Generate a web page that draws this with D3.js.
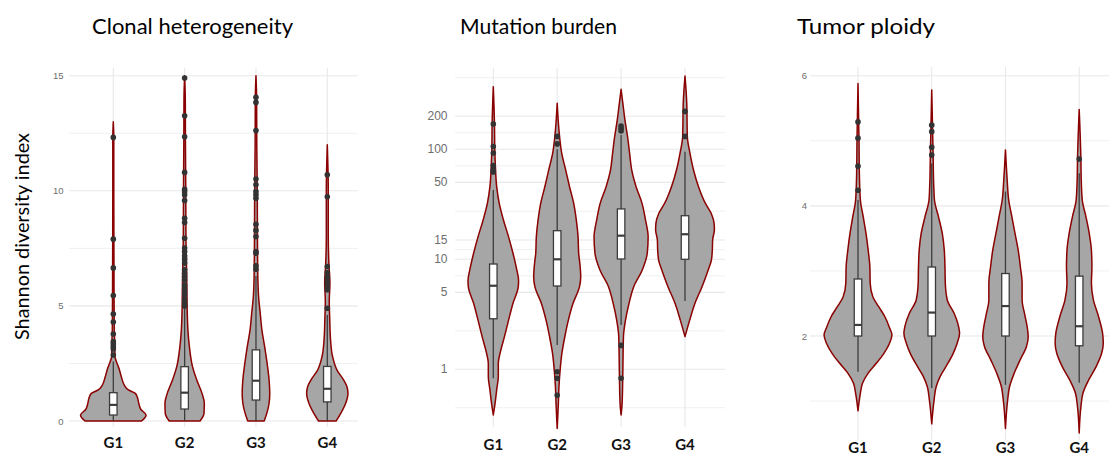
<!DOCTYPE html>
<html>
<head>
<meta charset="utf-8">
<script src="https://cdn.jsdelivr.net/npm/d3@7"></script>
<style>
  html, body { margin: 0; padding: 0; background: #fff; }
  svg { display: block; }
</style>
</head>
<body>
<svg id="chart" width="1109" height="456"></svg>
<script>
// ---------- shared ----------
const groups = ["G1", "G2", "G3", "G4"];

// ---------- Clonal heterogeneity (Shannon diversity index) ----------
const clonalTicks = [0, 5, 10, 15];
// [lower whisker, Q1, median, Q3, upper whisker]
const clonalStats = [
  [0, 0.26, 0.70, 1.23, 2.58],
  [0, 0.52, 1.23, 2.36, 5.0],
  [0, 0.91, 1.75, 3.09, 6.3],
  [0, 0.83, 1.40, 2.37, 4.6]
];
const clonalOutliers = [
  [2.87, 3.13, 3.23, 3.35, 3.45, 3.78, 4.30, 4.65, 5.45, 6.65, 7.9, 12.32],
  [5.0, 5.14, 5.29, 5.48, 5.62, 5.77, 5.91, 6.13, 6.28, 6.42, 6.57, 6.86, 7.03, 7.17, 7.36, 7.51, 7.94, 8.62, 8.81, 9.58, 9.83, 9.96, 10.07, 10.8, 12.35, 13.26, 14.9],
  [6.59, 6.74, 7.29, 7.36, 8.01, 8.28, 8.55, 9.68, 9.83, 9.97, 10.26, 10.51, 12.62, 13.84, 14.06],
  [4.9, 5.7, 5.87, 6.06, 6.25, 6.45, 6.71, 9.74, 10.7]
];
// kernel density profile: [value, relative density]
const clonalDensity = [
  [[0, 0.86], [0.12, 0.95], [0.26, 1.0], [0.5, 0.84], [0.75, 0.78], [1.0, 0.74], [1.2, 0.67], [1.35, 0.46], [1.55, 0.34], [1.9, 0.25], [2.3, 0.17], [2.6, 0.09], [2.8, 0.05], [3.3, 0.045], [4.0, 0.03], [5.0, 0.025], [7.0, 0.02], [10, 0.015], [12.3, 0.015], [13.0, 0]],
  [[0, 0.47], [0.33, 0.59], [0.77, 0.60], [1.2, 0.53], [1.78, 0.37], [2.36, 0.24], [3.23, 0.145], [3.96, 0.10], [4.68, 0.08], [5.5, 0.07], [6.5, 0.06], [8, 0.04], [10, 0.035], [12, 0.025], [14, 0.02], [15, 0]],
  [[0, 0.25], [0.33, 0.33], [0.77, 0.40], [1.2, 0.42], [1.78, 0.40], [2.5, 0.34], [3.23, 0.265], [3.96, 0.18], [4.68, 0.13], [5.4, 0.08], [6.1, 0.06], [7, 0.05], [8, 0.045], [10, 0.04], [12, 0.025], [14, 0.02], [15, 0]],
  [[0, 0.27], [0.33, 0.41], [0.77, 0.56], [1.2, 0.63], [1.49, 0.60], [1.78, 0.50], [2.2, 0.30], [2.8, 0.16], [3.5, 0.10], [4.4, 0.075], [5.2, 0.06], [6.0, 0.08], [6.8, 0.05], [8, 0.03], [10, 0.03], [11, 0.02], [12, 0]]
];

// ---------- Mutation burden (log scale) ----------
const burdenTicks = [1, 5, 10, 15, 50, 100, 200];
const burdenStats = [
  [0.83, 2.88, 5.75, 9.06, 42.7],
  [1.66, 5.72, 10.0, 18.2, 100],
  [2.53, 10.07, 16.4, 28.7, 135],
  [4.18, 10.0, 16.9, 24.9, 95]
];
const burdenOutliers = [
  [62.2, 64.8, 71, 92.5, 106, 170],
  [0.58, 0.83, 0.95, 112, 131],
  [0.83, 1.65, 147, 155, 163],
  [131, 221]
];
const burdenDensity = [
  [[0.385, 0], [0.49, 0.06], [0.65, 0.115], [0.86, 0.17], [1.135, 0.17], [1.40, 0.23], [1.98, 0.38], [2.8, 0.52], [3.98, 0.67], [5.64, 0.85], [6.46, 0.86], [8.0, 0.80], [11.35, 0.67], [16.0, 0.52], [22.8, 0.345], [32.4, 0.20], [45.7, 0.115], [70.8, 0.07], [100, 0.05], [170, 0.04], [371, 0]],
  [[0.29, 0], [0.49, 0.04], [0.695, 0.06], [0.986, 0.10], [1.40, 0.16], [1.98, 0.26], [2.8, 0.38], [3.98, 0.54], [5.64, 0.76], [6.95, 0.80], [9.2, 0.77], [11.35, 0.73], [16.0, 0.71], [22.8, 0.65], [32.4, 0.56], [45.7, 0.42], [64.6, 0.29], [93.3, 0.15], [131, 0.08], [262, 0]],
  [[0.385, 0], [0.49, 0.035], [0.986, 0.06], [1.98, 0.08], [2.8, 0.15], [3.98, 0.27], [5.64, 0.43], [8.0, 0.72], [11.35, 0.89], [16.0, 0.92], [22.8, 0.83], [32.4, 0.71], [45.7, 0.51], [64.9, 0.36], [92, 0.29], [130, 0.22], [185, 0.13], [262, 0.06], [351, 0]],
  [[1.98, 0], [2.8, 0.16], [3.98, 0.34], [5.64, 0.58], [8.0, 0.79], [9.86, 0.90], [12.2, 0.93], [15.0, 0.94], [18.5, 1.0], [21.2, 0.99], [26.2, 0.89], [32.4, 0.69], [45.7, 0.46], [64.9, 0.29], [92, 0.17], [130, 0.08], [262, 0.06], [464, 0]]
];

// ---------- Tumor ploidy ----------
const ploidyTicks = [2, 4, 6];
const ploidyStats = [
  [1.45, 2.0, 2.17, 2.876, 4.09],
  [1.2, 2.0, 2.36, 3.06, 4.65],
  [1.25, 2.0, 2.46, 2.96, 4.22],
  [1.28, 1.85, 2.15, 2.92, 4.5]
];
const ploidyOutliers = [
  [4.24, 4.61, 5.04, 5.29],
  [4.78, 4.90, 5.14, 5.24],
  [],
  [4.72]
];
const ploidyDensity = [
  [[0.85, 0], [1.12, 0.07], [1.27, 0.13], [1.43, 0.30], [1.58, 0.54], [1.73, 0.76], [1.89, 0.93], [2.015, 1.0], [2.14, 0.92], [2.30, 0.79], [2.45, 0.61], [2.60, 0.44], [2.81, 0.36], [3.06, 0.35], [3.32, 0.30], [3.58, 0.235], [3.83, 0.155], [4.09, 0.07], [4.5, 0.04], [5.0, 0.03], [5.88, 0]],
  [[0.65, 0], [1.02, 0.07], [1.22, 0.13], [1.38, 0.25], [1.53, 0.42], [1.73, 0.63], [1.89, 0.75], [2.04, 0.82], [2.19, 0.77], [2.35, 0.66], [2.55, 0.46], [2.81, 0.40], [3.06, 0.39], [3.32, 0.37], [3.58, 0.31], [3.83, 0.20], [4.09, 0.08], [4.3, 0.06], [4.8, 0.04], [5.78, 0]],
  [[0.58, 0], [1.02, 0.065], [1.22, 0.12], [1.43, 0.26], [1.63, 0.43], [1.84, 0.62], [1.99, 0.67], [2.14, 0.64], [2.35, 0.56], [2.55, 0.49], [2.81, 0.49], [3.06, 0.44], [3.32, 0.375], [3.58, 0.28], [3.83, 0.19], [4.09, 0.095], [4.4, 0.05], [4.86, 0]],
  [[0.51, 0], [0.91, 0.05], [1.12, 0.11], [1.33, 0.285], [1.53, 0.50], [1.73, 0.66], [1.89, 0.71], [2.04, 0.69], [2.30, 0.57], [2.55, 0.42], [2.81, 0.36], [3.06, 0.375], [3.32, 0.36], [3.58, 0.295], [3.83, 0.20], [4.09, 0.09], [4.4, 0.06], [4.72, 0.05], [5.48, 0]]
];

// ---------- drawing ----------
const svg = d3.select("#chart");

const COLORS = {
  fill: "#a6a6a6",
  outline: "#8b0000",
  grid: "#e8e8e8",
  gridMinor: "#f0f0f0",
  box: "#3c3c3c",
  point: "#333333",
  tick: "#6e6e6e"
};

// minor breaks halfway between majors (in the scale's own space), extended one step beyond
function minorBreaks(ticks, fwd, inv) {
  const t = ticks.map(fwd);
  const step = t[1] - t[0];
  const ext = [t[0] - step, ...t, t[t.length - 1] + step];
  const out = [];
  for (let i = 0; i < ext.length - 1; i++) out.push(inv((ext[i] + ext[i + 1]) / 2));
  return out;
}

function drawPanel(p) {
  const g = svg.append("g");
  const clipId = "clip-" + p.key;
  svg.append("clipPath").attr("id", clipId)
    .append("rect")
    .attr("x", p.gridX[0]).attr("y", p.gridY[0])
    .attr("width", p.gridX[1] - p.gridX[0]).attr("height", p.gridY[1] - p.gridY[0]);

  const x = d3.scalePoint().domain(groups).range(p.xRange);
  const y = p.y;
  const step = x.step();
  const w = d3.scaleLinear().domain([0, 1]).range([0, step * 0.46]);

  const grid = g.append("g").attr("clip-path", `url(#${clipId})`);
  // minor horizontal grid
  grid.selectAll("line.minor").data(p.minor).join("line")
    .attr("x1", p.gridX[0]).attr("x2", p.gridX[1])
    .attr("y1", d => y(d)).attr("y2", d => y(d))
    .attr("stroke", COLORS.gridMinor).attr("stroke-width", 1);
  // major horizontal grid
  grid.selectAll("line.major").data(p.ticks).join("line")
    .attr("x1", p.gridX[0]).attr("x2", p.gridX[1])
    .attr("y1", d => y(d)).attr("y2", d => y(d))
    .attr("stroke", COLORS.grid).attr("stroke-width", 1.1);
  // vertical grid at categories
  grid.selectAll("line.vert").data(groups).join("line")
    .attr("x1", d => x(d)).attr("x2", d => x(d))
    .attr("y1", p.gridY[0]).attr("y2", p.gridY[1])
    .attr("stroke", COLORS.grid).attr("stroke-width", 1.1);

  // y tick labels
  g.selectAll("text.ytick").data(p.ticks).join("text")
    .attr("x", p.tickX).attr("y", d => y(d))
    .attr("text-anchor", "end").attr("dominant-baseline", "central")
    .attr("font-family", "'Liberation Sans', Arial, sans-serif")
    .attr("font-size", p.tickSize).attr("fill", COLORS.tick)
    .text(d => d);

  // x labels
  g.selectAll("text.xlab").data(groups).join("text")
    .attr("x", d => x(d)).attr("y", p.xLabelY)
    .attr("text-anchor", "middle")
    .attr("font-family", "Lato, 'Open Sans', sans-serif")
    .attr("font-weight", "bold").attr("font-size", 15).attr("fill", "#111")
    .text(d => d);

  const marks = g.append("g");
  groups.forEach((grp, i) => {
    const cx = x(grp);
    const dens = p.density[i].slice().sort((a, b) => b[0] - a[0]);
    const area = d3.area()
      .curve(d3.curveMonotoneY)
      .y(d => y(d[0]))
      .x0(d => cx - w(d[1]))
      .x1(d => cx + w(d[1]));
    marks.append("path")
      .attr("d", area(dens))
      .attr("fill", COLORS.fill)
      .attr("stroke", COLORS.outline)
      .attr("stroke-width", 1.5)
      .attr("stroke-linejoin", "round");

    const [lo, q1, med, q3, hi] = p.stats[i];
    const bw = 7.5;
    marks.append("line")
      .attr("x1", cx).attr("x2", cx).attr("y1", y(lo)).attr("y2", y(hi))
      .attr("stroke", COLORS.box).attr("stroke-width", 1.3);
    marks.append("rect")
      .attr("x", cx - bw / 2).attr("width", bw)
      .attr("y", y(q3)).attr("height", y(q1) - y(q3))
      .attr("fill", "#fff").attr("stroke", COLORS.box).attr("stroke-width", 1.3);
    marks.append("line")
      .attr("x1", cx - bw / 2).attr("x2", cx + bw / 2)
      .attr("y1", y(med)).attr("y2", y(med))
      .attr("stroke", COLORS.box).attr("stroke-width", 2.2);

    marks.selectAll(null).data(p.outliers[i]).join("circle")
      .attr("cx", cx).attr("cy", d => y(d)).attr("r", 2.8)
      .attr("fill", COLORS.point);
  });

  // panel title
  svg.append("text")
    .attr("x", p.titleX).attr("y", 34)
    .attr("text-anchor", "middle")
    .attr("font-family", "Lato, 'Open Sans', sans-serif")
    .attr("font-size", 22).attr("fill", "#000")
    .attr("textLength", p.titleLen).attr("lengthAdjust", "spacingAndGlyphs")
    .text(p.title);
}

// Clonal heterogeneity
const yClonal = d3.scaleLinear().domain([0, 15]).range([421, 75.7]);
drawPanel({
  key: "clonal", title: "Clonal heterogeneity", titleX: 192.5, titleLen: 201,
  y: yClonal, xRange: [113.3, 327.3],
  gridX: [69, 358], gridY: [68, 427],
  ticks: clonalTicks,
  minor: minorBreaks(clonalTicks, d => d, d => d),
  tickX: 63.5, tickSize: 9.5, xLabelY: 448,
  stats: clonalStats, outliers: clonalOutliers, density: clonalDensity
});

// Mutation burden
const yBurden = d3.scaleLog().domain([1, 100]).range([369.3, 149.3]);
drawPanel({
  key: "burden", title: "Mutation burden", titleX: 538.5, titleLen: 157,
  y: yBurden, xRange: [493.3, 685],
  gridX: [455, 725], gridY: [68, 427],
  ticks: burdenTicks,
  minor: minorBreaks(burdenTicks, Math.log10, d => Math.pow(10, d)),
  tickX: 447.5, tickSize: 12, xLabelY: 450,
  stats: burdenStats, outliers: burdenOutliers, density: burdenDensity
});

// Tumor ploidy
const yPloidy = d3.scaleLinear().domain([2, 6]).range([336, 75.7]);
drawPanel({
  key: "ploidy", title: "Tumor ploidy", titleX: 866, titleLen: 138,
  y: yPloidy, xRange: [858, 1079.2],
  gridX: [810, 1109], gridY: [66.7, 440],
  ticks: ploidyTicks,
  minor: minorBreaks(ploidyTicks, d => d, d => d),
  tickX: 807, tickSize: 9.5, xLabelY: 452.5,
  stats: ploidyStats, outliers: ploidyOutliers, density: ploidyDensity
});

// shared y-axis title on the first panel
svg.append("text")
  .attr("transform", "translate(29,236.5) rotate(-90)")
  .attr("text-anchor", "middle")
  .attr("font-family", "Lato, 'Open Sans', sans-serif")
  .attr("font-size", 19).attr("fill", "#000")
  .attr("textLength", 207).attr("lengthAdjust", "spacingAndGlyphs")
  .text("Shannon diversity index");
</script>
</body>
</html>
